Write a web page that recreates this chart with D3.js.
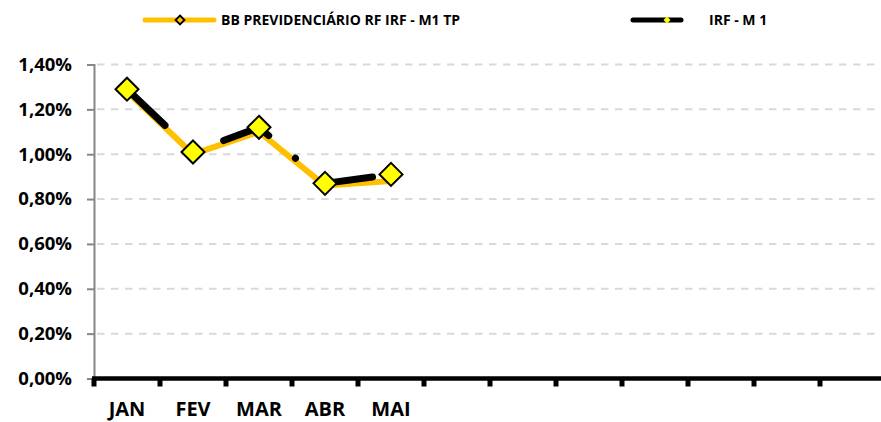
<!DOCTYPE html>
<html><head><meta charset="utf-8">
<script src="https://cdn.jsdelivr.net/npm/d3@7"></script>
<style>
html,body{margin:0;padding:0;background:#fff;}
svg{display:block;font-family:"Open Sans",sans-serif;font-weight:bold;}
</style></head>
<body><svg id="c" width="881" height="422"></svg>
<script>
const months = ["JAN","FEV","MAR","ABR","MAI","JUN","JUL","AGO","SET","OUT","NOV","DEZ"];
const tickLabels = ["JAN","FEV","MAR","ABR","MAI","","","","","","",""];
const seriesNames = ["BB PREVIDENCIÁRIO RF IRF - M1 TP","IRF - M 1"];
const bbValues = [1.28, 1.00, 1.10, 0.86, 0.88];
const irfValues = [1.29, 1.01, 1.12, 0.87, 0.91];
const yTicks = [0, 0.2, 0.4, 0.6, 0.8, 1.0, 1.2, 1.4];

const svg = d3.select("#c");
const x = d3.scaleBand().domain(d3.range(months.length)).range([94, 886]).padding(0);
const y = d3.scaleLinear().domain([0, 1.4]).range([378.5, 64.5]);
const fmt = v => v.toFixed(2).replace(".", ",") + "%";

// gridlines
svg.append("g").selectAll("line").data(yTicks.filter(v => v > 0)).join("line")
  .attr("x1", 97).attr("x2", 881)
  .attr("y1", d => y(d)).attr("y2", d => y(d))
  .attr("stroke", "#d9d9d9").attr("stroke-width", 2)
  .attr("stroke-dasharray", "7.5,6.5");

// y axis
const yAxis = svg.append("g").attr("transform", "translate(94,0)")
  .call(d3.axisLeft(y).tickValues(yTicks).tickFormat(fmt).tickSize(7).tickPadding(15));
yAxis.select(".domain").attr("stroke", "#868686").attr("stroke-width", 2);
yAxis.selectAll(".tick line").attr("stroke", "#868686").attr("stroke-width", 2);
yAxis.selectAll(".tick text").attr("fill", "#000").style("font-size", "18.5px")
  .style("font-family", "'Open Sans',sans-serif").style("font-weight", "bold");

// x axis
const xAxis = svg.append("g").attr("transform", "translate(0,378.5)")
  .call(d3.axisBottom(x).tickSize(0).tickFormat(i => tickLabels[i]).tickPadding(23));
xAxis.select(".domain").remove();
xAxis.selectAll(".tick text").attr("fill", "#000").style("font-size", "20px")
  .style("font-family", "'Open Sans',sans-serif").style("font-weight", "bold");
xAxis.append("line").attr("x1", 92).attr("x2", 881).attr("y1", 0).attr("y2", 0)
  .attr("stroke", "#000").attr("stroke-width", 4.5);
xAxis.selectAll(".xt").data(d3.range(months.length)).join("line").attr("class", "xt")
  .attr("x1", d => x(d)).attr("x2", d => x(d)).attr("y1", 0).attr("y2", 8)
  .attr("stroke", "#000").attr("stroke-width", 5);

const cx = (d, i) => x(i) + x.bandwidth() / 2;
const line = d3.line().x(cx).y(d => y(d));

svg.append("path").datum(bbValues).attr("d", line)
  .attr("fill", "none").attr("stroke", "#FFC000").attr("stroke-width", 6)
  .attr("stroke-linejoin", "round").attr("stroke-linecap", "round");

svg.append("path").datum(irfValues).attr("d", line)
  .attr("fill", "none").attr("stroke", "#000").attr("stroke-width", 7)
  .attr("stroke-linecap", "round").attr("stroke-linejoin", "round")
  .attr("stroke-dasharray", "50.5,35,0.1,36.2").attr("stroke-dashoffset", 119.8);

const diamond = r => `M0,${-r}L${r},0L0,${r}L${-r},0Z`;
svg.append("g").selectAll("path").data(irfValues).join("path")
  .attr("transform", (d, i) => `translate(${cx(d, i)},${y(d)})`)
  .attr("d", diamond(11.5))
  .attr("fill", "#FFFF00").attr("stroke", "#000").attr("stroke-width", 2);

// legend
const lg = svg.append("g");
lg.append("line").attr("x1", 145).attr("x2", 214).attr("y1", 20).attr("y2", 20)
  .attr("stroke", "#FFC000").attr("stroke-width", 5).attr("stroke-linecap", "round");
lg.append("path").attr("transform", "translate(180,20)").attr("d", diamond(4.5))
  .attr("fill", "#FFC000").attr("stroke", "#000").attr("stroke-width", 1.8);
lg.append("text").attr("x", 221).attr("y", 25).style("font-size", "14px").text(seriesNames[0]);
lg.append("line").attr("x1", 633).attr("x2", 681).attr("y1", 20).attr("y2", 20)
  .attr("stroke", "#000").attr("stroke-width", 5).attr("stroke-linecap", "round");
lg.append("path").attr("transform", "translate(667,20)").attr("d", diamond(3.5))
  .attr("fill", "#FFFF00");
lg.append("text").attr("x", 709).attr("y", 25).style("font-size", "14px").text(seriesNames[1]);
</script></body></html>
